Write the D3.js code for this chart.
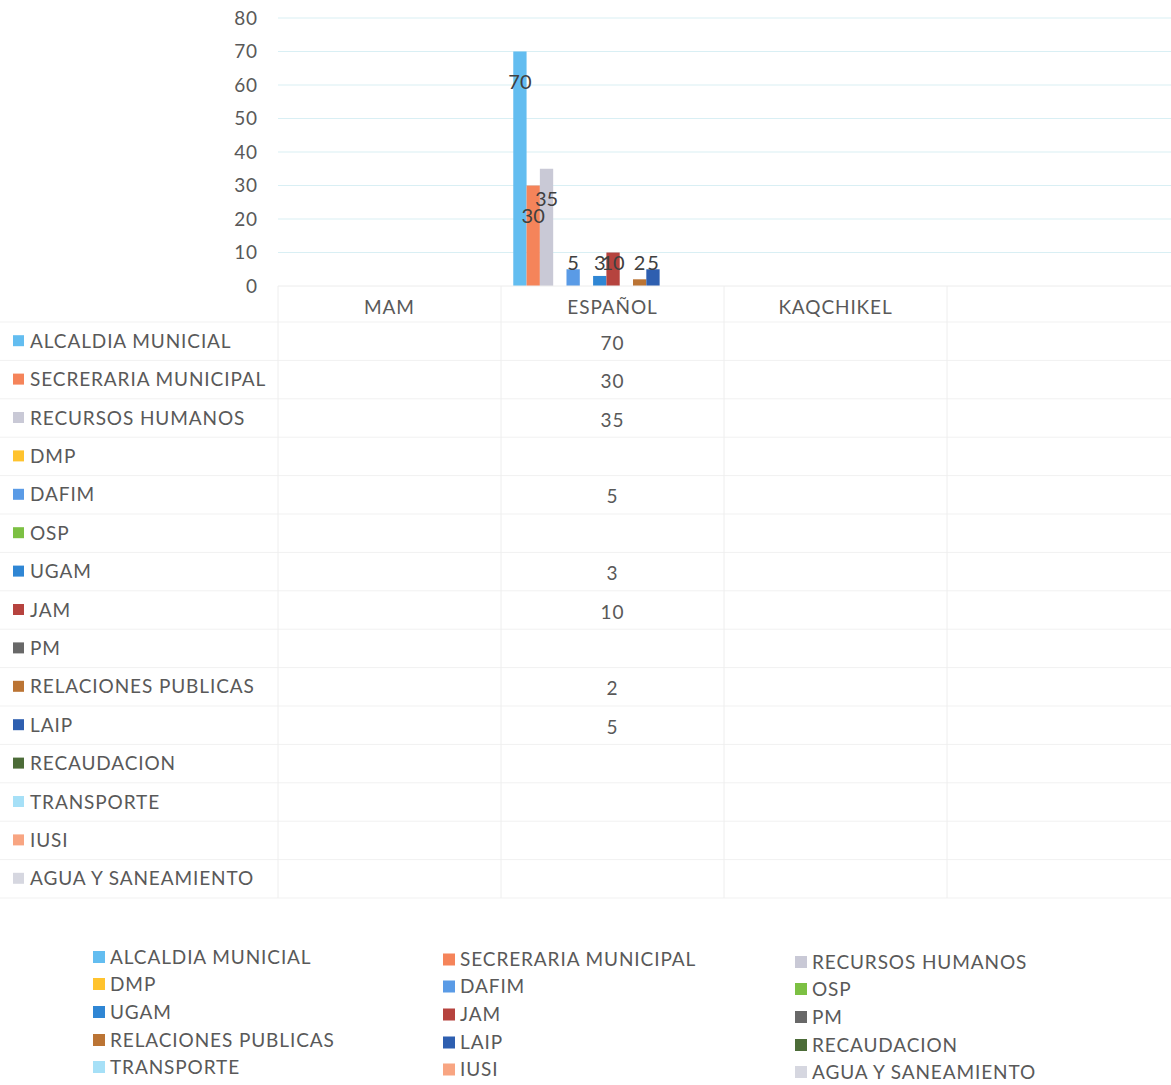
<!DOCTYPE html>
<html>
<head>
<meta charset="utf-8">
<script src="https://cdn.jsdelivr.net/npm/d3@7"></script>
<style>
  body { margin: 0; background: #fff; }
  svg text { font-family: Lato, "Open Sans", sans-serif; fill: #595959; }
</style>
</head>
<body>
<div id="chart"></div>
<script>
// chart data
const categories = ["MAM", "ESPAÑOL", "KAQCHIKEL"];
const seriesNames = [
  "ALCALDIA MUNICIAL", "SECRERARIA MUNICIPAL", "RECURSOS HUMANOS", "DMP", "DAFIM",
  "OSP", "UGAM", "JAM", "PM", "RELACIONES PUBLICAS", "LAIP", "RECAUDACION",
  "TRANSPORTE", "IUSI", "AGUA Y SANEAMIENTO"
];
// one value per category (MAM, ESPAÑOL, KAQCHIKEL); null = empty cell
const alcaldia     = [null, 70, null];
const secretaria   = [null, 30, null];
const recursos     = [null, 35, null];
const dmp          = [null, null, null];
const dafim        = [null, 5, null];
const osp          = [null, null, null];
const ugam         = [null, 3, null];
const jam          = [null, 10, null];
const pm           = [null, null, null];
const relaciones   = [null, 2, null];
const laip         = [null, 5, null];
const recaudacion  = [null, null, null];
const transporte   = [null, null, null];
const iusi         = [null, null, null];
const agua         = [null, null, null];
const yTicks = [0, 10, 20, 30, 40, 50, 60, 70, 80];

const seriesValues = [alcaldia, secretaria, recursos, dmp, dafim, osp, ugam, jam, pm,
  relaciones, laip, recaudacion, transporte, iusi, agua];

const colors = ["#63bdf0", "#f5845a", "#c9c9d6", "#ffc32e", "#5a9be6", "#7cc043",
  "#2f86d4", "#b6433e", "#686868", "#bb7434", "#2e5fb0", "#4c6c38",
  "#a6e0f7", "#f8a582", "#d6d7e0"];

const W = 1171, H = 1085;
const FONT = "19px", SPACING = "0.9px";
const svg = d3.select("#chart").append("svg").attr("width", W).attr("height", H);

// ─── scales ───────────────────────────────────────────────
const plotL = 278, plotR = 947, gridR = 1171;
const y = d3.scaleLinear().domain([0, 80]).range([286, 18]);
const x = d3.scaleBand().domain(categories).range([plotL, plotR]);
const x1 = d3.scaleBand().domain(seriesNames)
  .range([x.bandwidth() * 0.055, x.bandwidth() * 0.95]);

// gridlines
svg.append("g").selectAll("line").data(yTicks.slice(1)).join("line")
  .attr("x1", plotL).attr("x2", gridR)
  .attr("y1", d => y(d)).attr("y2", d => y(d))
  .attr("stroke", "#d9eff4").attr("stroke-width", 1.2);

// y axis labels
const yAxis = svg.append("g").attr("transform", "translate(258,0)")
  .call(d3.axisLeft(y).tickValues(yTicks).tickSize(0).tickPadding(0));
yAxis.select(".domain").remove();
yAxis.selectAll("text").style("font-size", FONT).attr("fill", "#595959")
  .style("font-family", "Lato, sans-serif").style("letter-spacing", SPACING);

// ─── bars ─────────────────────────────────────────────────
const barData = [];
seriesNames.forEach((s, i) => {
  categories.forEach((c, j) => {
    const v = seriesValues[i][j];
    if (v != null) barData.push({ s, c, v, color: colors[i] });
  });
});

svg.append("g").selectAll("rect").data(barData).join("rect")
  .attr("x", d => x(d.c) + x1(d.s))
  .attr("width", x1.bandwidth())
  .attr("y", d => y(d.v))
  .attr("height", d => y(0) - y(d.v))
  .attr("fill", d => d.color);

// labels overlap in the original too (Excel "inside end" on thin bars)
svg.append("g").selectAll("text").data(barData).join("text")
  .attr("x", d => x(d.c) + x1(d.s) + x1.bandwidth() / 2)
  .attr("y", d => Math.min(y(d.v) + 30, y(0) - 23))
  .attr("dy", "0.35em")
  .attr("text-anchor", "middle")
  .style("font-size", "20px")
  .style("fill", "#404040")
  .text(d => d.v);

// ─── data table ───────────────────────────────────────────
const rowTop = 322, rowH = 38.4;
const tableBottom = rowTop + rowH * seriesNames.length;
const tbl = svg.append("g");

tbl.selectAll("line.h").data(d3.range(seriesNames.length + 1)).join("line")
  .attr("class", "h")
  .attr("x1", 0).attr("x2", gridR)
  .attr("y1", i => rowTop + i * rowH).attr("y2", i => rowTop + i * rowH)
  .attr("stroke", "#f1f1f1");
tbl.append("line").attr("x1", plotL).attr("x2", gridR).attr("y1", y(0)).attr("y2", y(0))
  .attr("stroke", "#ececec");

const vx = [plotL].concat(categories.map(c => x(c) + x.bandwidth()));
tbl.selectAll("line.v").data(vx).join("line")
  .attr("class", "v")
  .attr("x1", d => d).attr("x2", d => d)
  .attr("y1", y(0)).attr("y2", tableBottom)
  .attr("stroke", "#eeeeee");

// category headers
tbl.selectAll("text.cat").data(categories).join("text")
  .attr("class", "cat")
  .attr("x", c => x(c) + x.bandwidth() / 2)
  .attr("y", 307).attr("dy", "0.35em")
  .attr("text-anchor", "middle")
  .style("font-size", FONT).style("letter-spacing", SPACING)
  .text(c => c);

// row legend keys + names + values
const rows = tbl.selectAll("g.row").data(seriesNames).join("g")
  .attr("class", "row")
  .attr("transform", (s, i) => `translate(0,${rowTop + rowH * (i + 0.5)})`);
rows.append("rect").attr("x", 13).attr("y", -6).attr("width", 11).attr("height", 11)
  .attr("fill", (s, i) => colors[i]);
rows.append("text").attr("x", 30).attr("dy", "0.35em")
  .style("font-size", FONT).style("letter-spacing", SPACING).text(s => s);
categories.forEach((c, j) => {
  rows.append("text")
    .attr("x", x(c) + x.bandwidth() / 2).attr("dy", "0.45em")
    .attr("text-anchor", "middle")
    .style("font-size", FONT).style("letter-spacing", SPACING)
    .text((s, i) => seriesValues[i][j] == null ? "" : seriesValues[i][j]);
});

// ─── bottom legend ────────────────────────────────────────
const legCols = [93, 443, 795], legRows = [957, 984, 1012, 1040, 1067];
const leg = svg.append("g").selectAll("g").data(seriesNames).join("g")
  .attr("transform", (s, i) => `translate(${legCols[i % 3]},${legRows[Math.floor(i / 3)] + (i % 3) * 2.5})`);
leg.append("rect").attr("x", 0).attr("y", -6).attr("width", 12).attr("height", 12)
  .attr("fill", (s, i) => colors[i]);
leg.append("text").attr("x", 17).attr("dy", "0.35em")
  .style("font-size", FONT).style("letter-spacing", SPACING).text(s => s);
</script>
</body>
</html>
